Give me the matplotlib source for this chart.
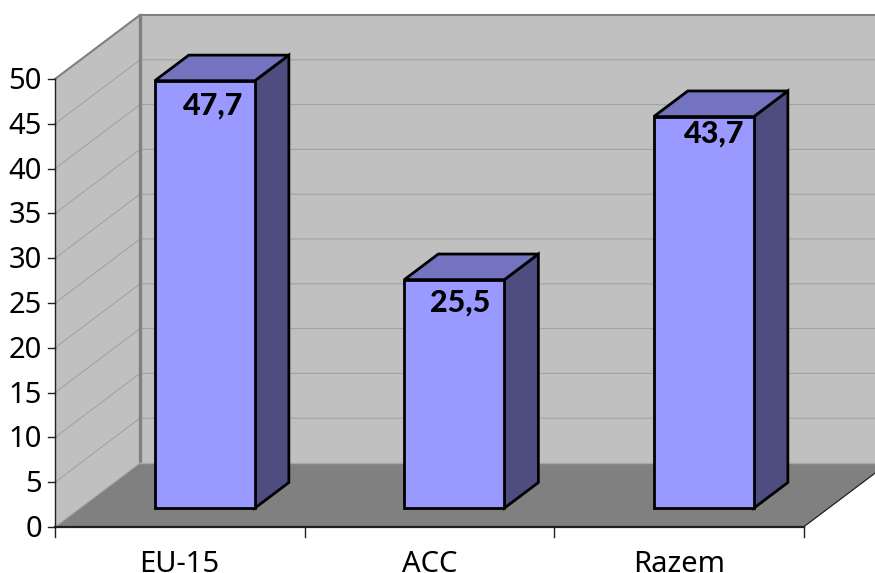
import matplotlib
matplotlib.use("Agg")
import matplotlib.pyplot as plt
from matplotlib.patches import Polygon

plt.rcParams["font.family"] = ["Noto Sans", "DejaVu Sans"]

# Chart content
categories = ["EU-15", "ACC", "Razem"]
values = [47.7, 25.5, 43.7]
value_labels = ["47,7", "25,5", "43,7"]
y_ticks = [0, 5, 10, 15, 20, 25, 30, 35, 40, 45, 50]

# Figure layout, in pixels
W, H = 875, 573
LEFT, BASE = 55.0, 527.0
PX_PER_CAT, PX_PER_VAL = 249.5, 8.96
DEPTH_PX = (85.0, 64.0)

# Bar geometry, in category units and fractions of the chart depth
BAR_WIDTH = 0.401
BAR_FRONT, BAR_BACK = 0.295, 0.695
label_shift_px = [(8, 34), (6, 32), (10, 26)]

WALL, FLOOR = "#c0c0c0", "#808080"
EDGE, GRID = "#808080", "#a3a3a3"
FACE, TOP, SIDE = "#9999ff", "#7373bf", "#4d4d80"

fig = plt.figure(figsize=(W / 100, H / 100), dpi=100)
ax = fig.add_axes([0, 0, 1, 1])
ax.set_xlim(-LEFT / PX_PER_CAT, (W - LEFT) / PX_PER_CAT)
ax.set_ylim((BASE - H) / PX_PER_VAL, BASE / PX_PER_VAL)
ax.axis("off")

DX = DEPTH_PX[0] / PX_PER_CAT
DY = DEPTH_PX[1] / PX_PER_VAL
n = len(categories)
top = max(y_ticks)


def pt(x, v, d=0.0):
    """Project a category/value/depth triple onto the flat axes."""
    return (x + d * DX, v + d * DY)


def poly(points, **kw):
    ax.add_patch(Polygon(points, closed=True, **kw))


# Walls and floor
poly([pt(0, 0), pt(0, top), pt(0, top, 1), pt(0, 0, 1)], fc=WALL, ec="none", zorder=1)
poly([pt(0, 0, 1), pt(0, top, 1), pt(n, top, 1), pt(n, 0, 1)], fc=WALL, ec="none", zorder=1)
poly([pt(0, 0), pt(n, 0), pt(n, 0, 1), pt(0, 0, 1)], fc=FLOOR, ec="none", zorder=2)

# Gridlines run along the side wall and across the back wall
for v in y_ticks[1:-1]:
    xs, ys = zip(pt(0, v), pt(0, v, 1), pt(n, v, 1))
    ax.plot(xs, ys, color=GRID, lw=0.8, zorder=2)

# Wall outlines
xs, ys = zip(pt(0, top), pt(0, top, 1), pt(n, top, 1))
ax.plot(xs, ys, color=EDGE, lw=1.5, zorder=3)
xs, ys = zip(pt(0, 0, 1), pt(0, top, 1))
ax.plot(xs, ys, color=EDGE, lw=2.4, zorder=3)
xs, ys = zip(pt(0, 0), pt(0, 0, 1))
ax.plot(xs, ys, color="#a8a8a8", lw=0.8, zorder=3)
xs, ys = zip(pt(0, 0, 1), pt(n, 0, 1))
ax.plot(xs, ys, color="#a8a8a8", lw=1.0, zorder=3)
xs, ys = zip(pt(n, 0), pt(n, 0, 1))
ax.plot(xs, ys, color="#202020", lw=0.9, zorder=3)

# Axis lines and ticks
ax.plot([0, 0], [0, top], color="#202020", lw=1.0, zorder=4)
ax.plot([0, n], [0, 0], color="#202020", lw=1.6, zorder=4)
tick_x = 7 / PX_PER_CAT
tick_y = 10 / PX_PER_VAL
for v in y_ticks:
    ax.plot([-tick_x, 0], [v, v], color="#202020", lw=1.0, zorder=4)
    ax.annotate(str(v), (0, v), xytext=(-13, -10), textcoords="offset pixels",
                ha="right", va="baseline", fontsize=21, color="black")
for i in range(n + 1):
    ax.plot([i, i], [0, -tick_y], color="#202020", lw=1.0, zorder=4)
for i, name in enumerate(categories):
    ax.annotate(name, (i + 0.5, 0), xytext=(0, -45), textcoords="offset pixels",
                ha="center", va="baseline", fontsize=21, color="black")

# Bars with their front, top and side faces
line = dict(ec="black", lw=2.0, joinstyle="miter", zorder=5)
for i, v in enumerate(values):
    x0 = i + 0.5 - BAR_WIDTH / 2
    x1 = i + 0.5 + BAR_WIDTH / 2
    poly([pt(x1, 0, BAR_FRONT), pt(x1, 0, BAR_BACK), pt(x1, v, BAR_BACK), pt(x1, v, BAR_FRONT)],
         fc=SIDE, **line)
    poly([pt(x0, v, BAR_FRONT), pt(x1, v, BAR_FRONT), pt(x1, v, BAR_BACK), pt(x0, v, BAR_BACK)],
         fc=TOP, **line)
    poly([pt(x0, 0, BAR_FRONT), pt(x1, 0, BAR_FRONT), pt(x1, v, BAR_FRONT), pt(x0, v, BAR_FRONT)],
         fc=FACE, **line)
    shift = label_shift_px[i]
    ax.annotate(value_labels[i], pt(i + 0.5, v, BAR_FRONT),
                xytext=(shift[0], -shift[1]), textcoords="offset pixels",
                ha="center", va="baseline", family=["Lato", "DejaVu Sans"], fontsize=22,
                fontweight="black", color="black", zorder=6)

fig.savefig("out.png", dpi=100, facecolor="white")
